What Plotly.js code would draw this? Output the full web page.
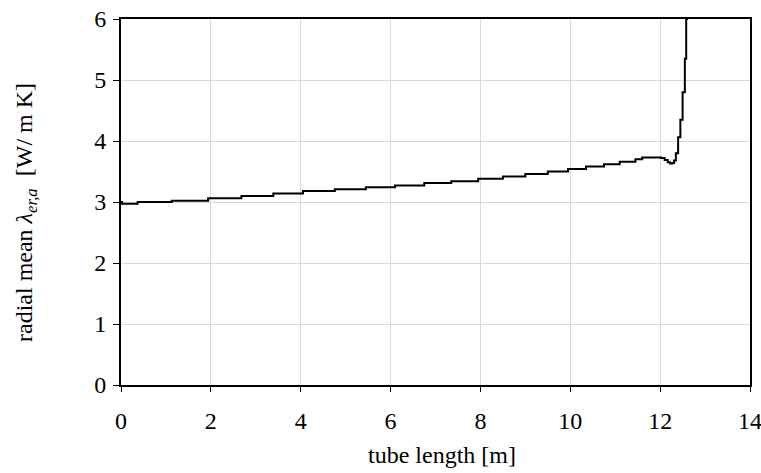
<!DOCTYPE html>
<html>
<head>
<meta charset="utf-8">
<script src="https://cdn.plot.ly/plotly-3.0.1.min.js"></script>
<style>html,body{margin:0;padding:0;background:#fff;}#chart{width:761px;height:473px;}</style>
</head>
<body>
<div id="chart"></div>
<script>
// tube length [m]
const tubeLength = [0, 0.02, 0.37, 1.13, 1.94, 2.68, 3.39, 4.05, 4.76, 5.45, 6.1, 6.75, 7.35, 7.95, 8.5, 9.0, 9.5, 9.95, 10.35, 10.75, 11.1, 11.45, 11.6, 12.02, 12.1, 12.17, 12.22, 12.27, 12.31, 12.35, 12.4, 12.45, 12.5, 12.55, 12.58, 12.6];
// radial mean lambda_er,a [W/ m K]
const lambdaEr = [3.00, 2.97, 3.00, 3.02, 3.06, 3.10, 3.14, 3.18, 3.21, 3.24, 3.27, 3.31, 3.34, 3.38, 3.42, 3.46, 3.50, 3.54, 3.58, 3.62, 3.66, 3.70, 3.73, 3.72, 3.69, 3.65, 3.63, 3.64, 3.68, 3.80, 4.06, 4.35, 4.80, 5.35, 6.00, 6.20];

const xTicks = [0, 2, 4, 6, 8, 10, 12, 14];
const yTicks = [0, 1, 2, 3, 4, 5, 6];
const xTitle = 'tube length [m]';
const yTitle = 'radial mean <i>λ<sub>er,a</sub></i>  [W/ m K]';

const fontFam = '"Liberation Serif", "Times New Roman", "DejaVu Serif", serif';
const fs = 24;

const trace = {
  x: tubeLength,
  y: lambdaEr,
  type: 'scatter',
  mode: 'lines',
  line: {color: '#000000', width: 2, shape: 'hv'},
  hoverinfo: 'skip'
};

const layout = {
  width: 761,
  height: 473,
  margin: {l: 121, r: 11, t: 19, b: 88},
  paper_bgcolor: '#ffffff',
  plot_bgcolor: '#ffffff',
  showlegend: false,
  font: {family: fontFam, size: fs, color: '#000000'},
  xaxis: {
    range: [0, 14],
    tickvals: xTicks,
    ticktext: xTicks.map(String),
    showgrid: true,
    gridcolor: '#d9d9d9',
    gridwidth: 1,
    zeroline: false,
    showline: true,
    linecolor: '#000000',
    linewidth: 2,
    mirror: true,
    ticks: 'outside',
    ticklen: 5,
    tickcolor: '#000000',
    ticklabelstandoff: 8,
    ticklabeloverflow: 'allow',
    tickfont: {family: fontFam, size: fs, color: '#000000'}
  },
  yaxis: {
    range: [0, 6],
    tickvals: yTicks,
    ticktext: yTicks.map(String),
    showgrid: true,
    gridcolor: '#d9d9d9',
    gridwidth: 1,
    zeroline: false,
    showline: true,
    linecolor: '#000000',
    linewidth: 2,
    mirror: true,
    ticks: 'outside',
    ticklen: 6,
    tickcolor: '#000000',
    ticklabelstandoff: 2,
    tickfont: {family: fontFam, size: fs, color: '#000000'}
  },
  annotations: [
    {text: xTitle, xref: 'paper', yref: 'paper', x: 0.51, y: -0.192, xanchor: 'center', yanchor: 'middle',
     showarrow: false, font: {family: fontFam, size: fs, color: '#000000'}},
    {text: yTitle, xref: 'paper', yref: 'paper', x: -0.151, y: 0.47, xanchor: 'center', yanchor: 'middle',
     textangle: -90, showarrow: false, font: {family: fontFam, size: fs, color: '#000000'}}
  ]
};

Plotly.newPlot('chart', [trace], layout, {displayModeBar: false, staticPlot: true});
</script>
</body>
</html>
